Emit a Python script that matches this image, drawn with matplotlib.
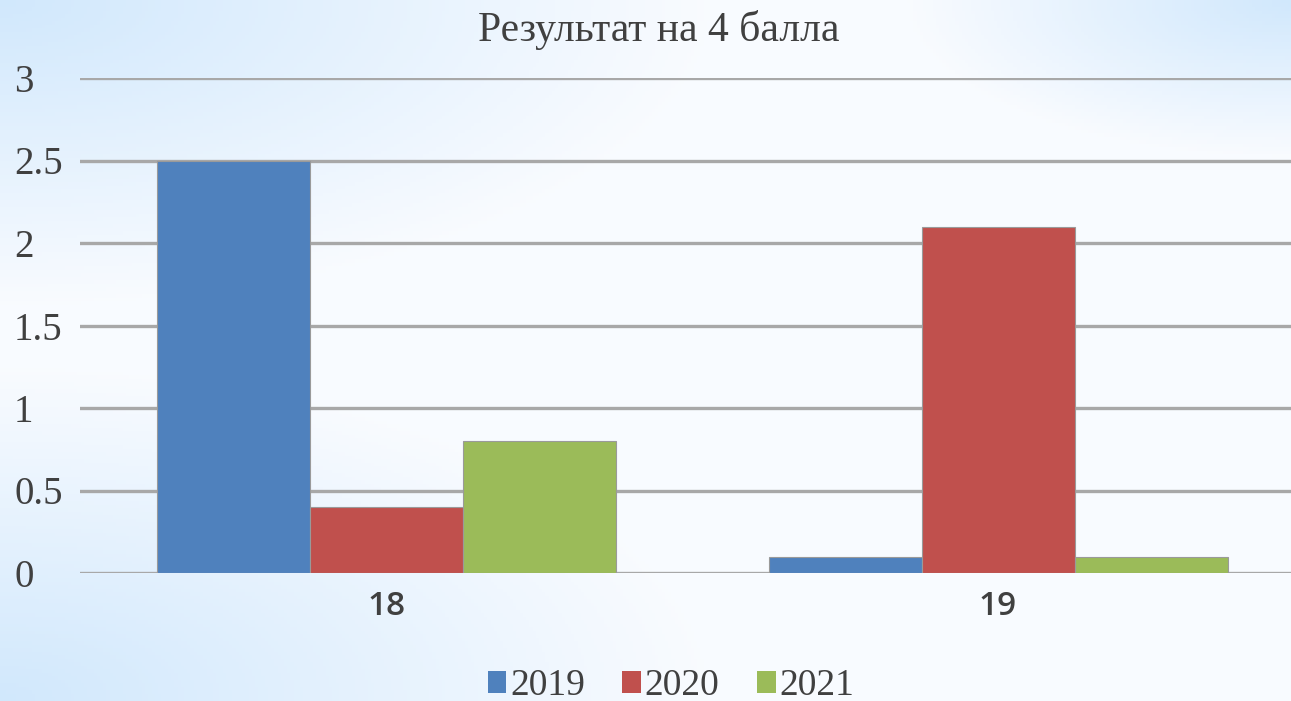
import numpy as np
import matplotlib
matplotlib.use("Agg")
import matplotlib.pyplot as plt
from matplotlib.patches import Patch

categories = ["18", "19"]
series = ["2019", "2020", "2021"]
values_2019 = [2.5, 0.1]
values_2020 = [0.4, 2.1]
values_2021 = [0.8, 0.1]
y_ticks = [0, 0.5, 1, 1.5, 2, 2.5, 3]
y_tick_labels = ["0", "0.5", "1", "1.5", "2", "2.5", "3"]
title = "Результат на 4 балла"

colors = ["#4F81BD", "#C0504D", "#9BBB59"]
text_color = "#404040"

W, H = 1291, 701
fig = plt.figure(figsize=(W / 100, H / 100), dpi=100)

# background gradient
bg = fig.add_axes([0, 0, 1, 1], zorder=-10)
yy, xx = np.mgrid[0:1:200j, 0:1:400j]
d1 = np.sqrt((xx) ** 2 * 1.0 + (yy) ** 2 * 1.6)
d2 = np.sqrt((1 - xx) ** 2 * 1.4 + (yy) ** 2 * 2.5)
d3 = np.sqrt((xx) ** 2 * 1.2 + (1 - yy) ** 2 * 1.6)
t = np.clip(np.minimum(np.minimum(d1 / 0.55, d2 / 0.35), d3 / 0.6), 0, 1)
c_edge = np.array([0.82, 0.91, 0.99])
c_mid = np.array([0.975, 0.985, 1.0])
img = c_edge[None, None, :] * (1 - t[..., None]) + c_mid[None, None, :] * t[..., None]
bg.imshow(img, aspect="auto", extent=[0, 1, 0, 1], origin="upper")
bg.axis("off")

left = 80 / W
right = 1304 / W
bottom = (H - 573) / H
top = (H - 78) / H
ax = fig.add_axes([left, bottom, right - left, top - bottom])
ax.patch.set_alpha(0)

x = np.arange(len(categories))
bw = 0.25
all_vals = [values_2019, values_2020, values_2021]
for i, (name, vals) in enumerate(zip(series, all_vals)):
    ax.bar(x + (i - 1) * bw, vals, width=bw, color=colors[i], label=name,
           edgecolor="#9a9a9a", linewidth=0.8, zorder=3)

ax.set_xlim(-0.5, 1.5)
ax.set_ylim(0, 3)
ax.set_yticks(y_ticks)
ax.set_yticklabels(y_tick_labels, family="Liberation Serif", fontsize=28, color=text_color)
ax.set_xticks(x)
ax.set_xticklabels(categories, family="Open Sans", fontsize=24, color=text_color,
                   fontweight="semibold")
ax.tick_params(axis="both", length=0)
for lbl in ax.get_yticklabels():
    lbl.set_horizontalalignment("left")
ax.tick_params(axis="y", pad=66 * 0.72)
ax.tick_params(axis="x", pad=12)

ax.grid(axis="y", color="#a8a8a8", linewidth=2.4, zorder=0)
ax.set_axisbelow(True)
for s in ax.spines.values():
    s.set_visible(False)

fig.text(659 / W, 1 - 30 / H, title, family="Liberation Serif", fontsize=30,
         color=text_color, ha="center", va="center")

handles = [Patch(facecolor=c, edgecolor="none") for c in colors]
fig.legend(handles, series, loc="center", bbox_to_anchor=(671 / W, 1 - 686 / H),
           ncol=3, frameon=False, prop={"family": "Liberation Serif", "size": 27},
           handlelength=0.5, handleheight=0.5, handletextpad=0.1, columnspacing=1.0,
           labelcolor=text_color)

fig.savefig("out.png", dpi=100)
